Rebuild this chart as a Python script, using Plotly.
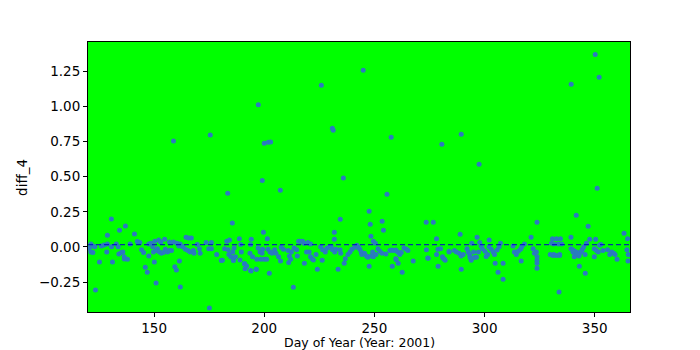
import plotly.graph_objects as go

# ---- data (day of year, diff_4) ----
outlier_days = [197.3,158.8,175.5,200.0,201.8,202.9,199.1,183.4,185.5,199.6,130.6,137.0,134.3,128.8,141.1,123.4,150.9,161.9,175.1,146.0,146.9,125.2,131.1,136.5,159.4,160.1,150.1,161.5,181.0,186.0,191.0,191.3,194.0,196.4,
                244.9,225.9,230.9,231.3,257.6,280.6,207.3,235.9,255.7,247.6,234.5,248.1,253.5,254.1,273.5,276.7,231.8,231.8,248.4,213.2,202.3,224.1,233.5,218.2,226.3,236.3,247.6,258.1,262.6,259.9,260.8,267.6,274.4,278.9,
                350.2,352.0,339.3,289.4,297.5,351.1,341.6,347.0,323.8,288.9,363.3,333.8,308.4,306.1,304.8,308.4,316.6,323.8,323.8,323.8,289.4,281.2,282.1,343.0,345.7,360.1,365.1,293.9,293.4,295.3,300.7,331.0,332.5,334.0]
outlier_vals = [1.01,0.753,0.795,0.737,0.744,0.746,0.473,0.381,0.17,0.104,0.199,0.149,0.118,0.083,0.092,-0.305,-0.256,-0.284,-0.433,-0.144,-0.18,-0.107,-0.107,-0.085,-0.14,-0.163,-0.107,-0.10,-0.095,-0.095,-0.12,-0.154,-0.17,-0.158,
                1.255,1.148,0.843,0.829,0.779,0.729,0.403,0.49,0.374,0.253,0.197,0.161,0.182,0.119,0.175,0.175,0.104,0.055,0.076,-0.286,-0.187,-0.159,-0.159,-0.116,-0.095,-0.116,-0.137,-0.137,-0.18,-0.09,-0.116,-0.10,-0.08,-0.137,
                1.368,1.205,1.155,0.80,0.587,0.417,0.225,0.147,0.175,0.09,0.097,-0.32,-0.23,-0.18,-0.116,-0.116,-0.10,-0.151,-0.095,-0.116,-0.158,-0.08,-0.095,-0.137,-0.187,-0.087,-0.10,-0.095,-0.074,-0.074,-0.067,-0.06,-0.06,-0.06]

cluster_days = [120.5,142.4,143.5,121.3,122.2,123.1,121.3,122.2,126.1,127.3,128.8,128.5,130.7,132.8,133.7,134.0,135.2,135.8,136.4,137.9,139.1,144.3,145.2,147.6,148.5,147.6,149.4,150.3,149.7,150.9,151.5,152.4,153.3,154.2,155.1,156.1,157.0,157.9,152.1,153.0,154.8,157.0,158.8,160.3,161.2,
                164.5,165.7,166.9,161.8,163.0,164.2,165.4,166.3,167.8,168.1,170.6,170.9,169.6,173.6,176.0,174.8,176.0,178.4,180.5,183.0,184.2,182.0,183.6,183.9,184.8,185.7,186.3,186.0,186.9,188.7,189.3,189.6,189.0,191.1,192.0,194.1,193.8,193.5,194.7,193.8,196.3,197.2,198.1,199.0,196.6,198.4,199.9,201.1,199.3,201.4,
                201.7,202.6,203.5,204.7,205.3,206.5,207.4,207.7,208.7,210.8,211.4,212.3,213.5,214.7,211.1,212.0,215.0,215.6,216.5,217.4,218.0,219.8,221.0,219.2,220.4,221.0,221.7,222.3,223.5,225.6,226.5,227.7,228.5,229.5,230.4,231.0,232.0,232.5,234.4,234.7,236.8,238.0,238.9,239.8,241.0,242.0,242.8,
                249.5,250.4,242.5,243.4,244.0,244.3,245.5,246.4,247.0,248.5,249.2,249.5,250.7,251.6,252.5,253.4,255.2,257.0,257.9,258.8,259.7,260.6,261.5,262.2,263.4,264.6,265.2,259.7,273.6,274.2,278.2,278.2,278.8,280.0,280.9,281.8,283.9,
                296.6,302.1,321.1,283.9,286.3,287.2,288.4,289.3,290.3,292.0,292.6,293.2,294.2,295.0,296.3,297.2,297.8,298.4,299.0,300.2,301.4,302.0,303.0,303.9,304.5,305.7,306.6,307.2,312.9,313.5,314.4,315.3,316.3,316.9,318.1,322.0,322.6,323.5,323.8,
                339.2,364.9,330.8,332.6,334.4,330.4,331.4,333.5,335.0,329.8,331.4,334.1,339.2,340.1,341.0,341.9,340.7,342.8,343.7,344.4,345.0,345.6,346.2,347.7,350.4,349.8,350.7,351.6,352.2,352.8,353.7,349.8,355.8,356.8,357.7,358.6,359.2,364.6,365.2,
                340.0,341.0,342.0,343.0,344.0]
cluster_vals = [-0.01,0.038,0.031,0.021,0.007,0.002,-0.036,-0.04,0.007,0.014,0.021,-0.036,0.002,0.021,0.002,-0.05,-0.04,-0.036,-0.069,-0.088,0.021,-0.02,-0.04,0.021,0.026,-0.064,0.002,0.04,-0.036,-0.026,-0.012,-0.036,-0.045,-0.04,-0.017,-0.036,-0.026,-0.026,0.05,0.035,0.054,0.035,0.035,0.026,0.007,
                0.069,0.064,0.064,0.021,0.002,-0.017,-0.026,-0.036,-0.026,-0.045,-0.012,-0.045,0.017,0.031,0.031,-0.012,-0.012,-0.054,-0.097,0.04,0.05,-0.012,-0.02,-0.054,-0.069,-0.036,-0.007,-0.097,-0.069,0.059,0.017,-0.036,-0.092,-0.12,-0.135,0.054,0.017,-0.045,-0.069,-0.168,-0.159,-0.007,-0.036,-0.045,-0.088,-0.088,-0.088,-0.088,-0.017,0.059,
                -0.017,-0.036,-0.045,-0.02,-0.045,-0.069,-0.1,-0.002,-0.017,-0.026,-0.064,-0.036,-0.007,-0.02,-0.11,-0.088,-0.064,0.04,0.04,0.04,0.026,0.031,0.021,-0.036,-0.036,-0.069,-0.083,-0.092,-0.054,0.002,-0.02,-0.036,-0.01,0.0,0.002,-0.02,-0.036,-0.017,-0.02,-0.045,-0.083,-0.054,-0.036,-0.017,-0.002,0.012,-0.002,
                0.04,0.026,-0.002,-0.017,-0.036,-0.054,-0.045,-0.064,-0.073,-0.064,-0.036,-0.069,-0.054,-0.012,-0.031,-0.045,-0.05,-0.026,-0.021,-0.026,-0.021,-0.036,-0.054,-0.04,-0.007,-0.017,-0.026,-0.083,-0.02,-0.078,0.059,-0.054,-0.017,-0.012,-0.069,-0.088,-0.036,
                0.069,0.05,0.069,-0.03,-0.026,-0.036,-0.045,-0.064,-0.054,-0.012,-0.036,-0.054,0.026,-0.036,-0.073,-0.036,0.031,0.007,-0.012,-0.031,-0.054,0.002,-0.017,-0.036,-0.054,-0.021,0.002,0.026,0.007,-0.036,-0.054,-0.031,-0.017,0.002,0.021,-0.012,-0.045,-0.036,-0.069,
                0.069,0.059,0.059,0.059,0.059,0.026,0.021,0.021,0.021,-0.054,-0.054,-0.054,-0.012,-0.036,-0.045,-0.054,-0.069,-0.064,-0.036,-0.017,0.002,-0.054,0.026,0.054,0.054,-0.012,-0.026,-0.036,0.012,0.017,-0.026,-0.069,-0.02,-0.054,-0.036,-0.045,-0.054,-0.02,-0.054,
                -0.02,-0.03,-0.04,-0.05,-0.03]

mean_diff = 0.016
x_range = [120, 366]
y_range = [-0.462, 1.456]
x_ticks = [150, 200, 250, 300, 350]
y_ticks = [-0.25, 0.0, 0.25, 0.5, 0.75, 1.0, 1.25]
x_title = "Day of Year (Year: 2001)"
y_title = "diff_4"

days = outlier_days + cluster_days
vals = outlier_vals + cluster_vals

fig = go.Figure()
fig.add_trace(go.Scatter(
    x=days, y=vals, mode="markers",
    marker=dict(size=5, color="#2a7bbf", line=dict(width=0)),
    showlegend=False, hoverinfo="skip"))
fig.add_trace(go.Scatter(
    x=x_range, y=[mean_diff, mean_diff], mode="lines",
    line=dict(color="#0000cc", width=1, dash="5px,3px"),
    showlegend=False, hoverinfo="skip"))

axis_common = dict(showline=True, mirror=True, linecolor="black", linewidth=1,
                   ticks="outside", ticklen=4, tickcolor="black", tickwidth=1,
                   showgrid=False, zeroline=False, automargin=False,
                   tickfont=dict(family="DejaVu Sans", size=13.5, color="black"))

fig.update_layout(
    width=700, height=350,
    margin=dict(l=88, r=70, t=42, b=38),
    paper_bgcolor="white", plot_bgcolor="#00ff00",
    font=dict(family="DejaVu Sans", color="black"),
    xaxis=dict(range=x_range, tickvals=x_ticks, **axis_common),
    yaxis=dict(range=y_range, tickvals=y_ticks, tickformat=".2f", **axis_common),
    annotations=[
        dict(text=x_title, xref="paper", yref="paper", x=0.5, y=-0.114,
             xanchor="center", yanchor="middle", showarrow=False,
             font=dict(family="DejaVu Sans", size=12.5, color="black")),
        dict(text=y_title, xref="paper", yref="paper", x=-0.122, y=0.5,
             xanchor="center", yanchor="middle", textangle=-90, showarrow=False,
             font=dict(family="DejaVu Sans", size=13.5, color="black")),
    ],
)

fig.write_html("out.html")
